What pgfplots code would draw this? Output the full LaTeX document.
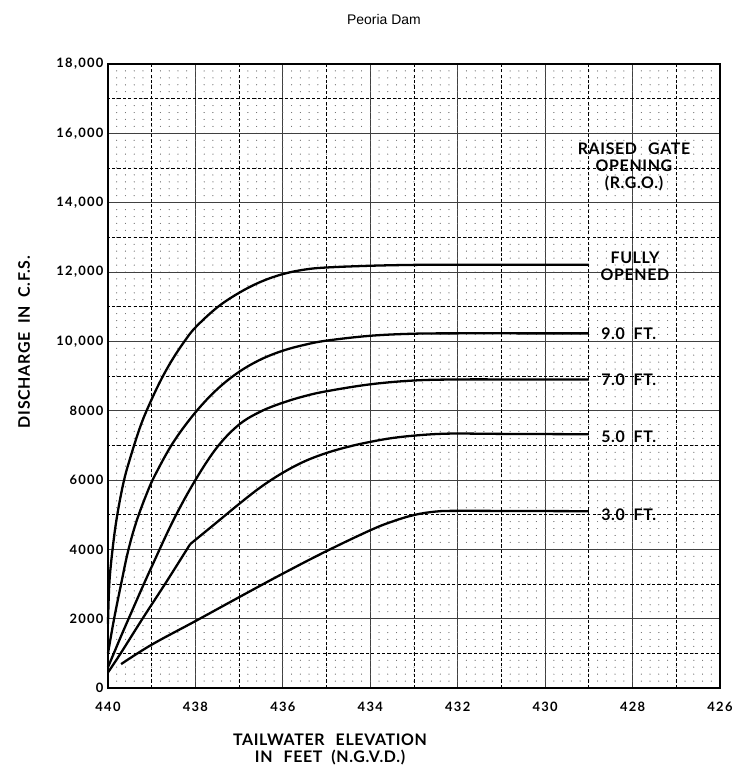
\documentclass[border=0pt]{standalone}
\usepackage{pgfplots}
\pgfplotsset{compat=1.18}
\usepackage{fontspec}
\setmainfont{Liberation Sans}
\newfontfamily\chartfont{Lato}[LetterSpace=4]
\newfontfamily\tickfont{Lato}[LetterSpace=10]

\begin{document}
\begin{tikzpicture}
\useasboundingbox (0,0) rectangle (736bp,767bp);
\begin{axis}[
  at={(108bp,79bp)}, anchor=south west,
  width=612bp, height=624bp, scale only axis,
  x dir=reverse,
  xmin=426, xmax=440, ymin=0, ymax=18000,
  xtick={426,428,...,440},
  xticklabels={426,428,430,432,434,436,438,440},
  ytick={0,2000,...,18000},
  yticklabels={0,2000,4000,6000,8000,{10,000},{12,000},{14,000},{16,000},{18,000}},
  scaled y ticks=false,
  minor x tick num=9, minor y tick num=9,
  grid=both,
  major tick length=0pt, minor tick length=0pt,
  major grid style={black!75, line width=0.9pt},
  minor x grid style={black!55, line width=1.0pt, line cap=round, dash pattern=on 0pt off 6.93333bp},
  minor y grid style={black!55, line width=1.0pt, line cap=round, dash pattern=on 0pt off 8.74286bp},
  extra x ticks={427,429,...,439},
  extra x tick labels={},
  extra x tick style={grid=major, major grid style={black, line width=0.8pt, dash pattern=on 3.2bp off 2.2bp}},
  extra y ticks={1000,3000,...,17000},
  extra y tick labels={},
  extra y tick style={grid=major, major grid style={black, line width=0.8pt, dash pattern=on 3.2bp off 2.2bp}},
  axis line style={line width=1.2pt},
  tick label style={font=\tickfont\bfseries\fontsize{13}{14}\selectfont},
  xticklabel style={yshift=-11bp},
  yticklabel style={xshift=-1bp},
  clip=false,
  curve/.style={black, line width=2.3pt, smooth, tension=0.6, line join=round},
]
% fully opened
\addplot[curve] coordinates {
 (440,1850) (439.97,3000) (439.9,3950) (439.8,4900) (439.65,5900)
 (439.5,6600) (439.25,7580) (439.0,8330) (438.75,8980) (438.5,9530)
 (438.25,10000) (438.0,10400) (437.5,10980) (437.0,11400) (436.5,11720)
 (436.0,11940) (435.5,12070) (435.0,12130) (434.0,12180) (433.0,12205)
 (432.0,12210) (430.5,12210) (429.0,12210)};
% 9.0 ft
\addplot[curve] coordinates {
 (440,1000) (439.86,2000) (439.7,3000) (439.54,3950) (439.35,4800)
 (439.1,5650) (438.9,6200) (438.5,7100) (438.0,7950) (437.5,8620)
 (437.0,9120) (436.5,9480) (436.0,9730) (435.5,9900) (435.0,10020)
 (434.0,10160) (433.0,10220) (432.0,10230) (430.5,10230) (429.0,10230)};
% 7.0 ft
\addplot[curve] coordinates {
 (440,600) (439.85,1050) (439.7,1500) (439.5,2080) (439.25,2800)
 (439.0,3500) (438.5,4850) (438.0,6000) (437.5,6950) (437.0,7600)
 (436.5,7980) (436.0,8230) (435.5,8420) (435.0,8560) (434.0,8760)
 (433.0,8870) (432.0,8900) (430.5,8900) (429.0,8900)};
% 5.0 ft
\addplot[curve] coordinates {
 (440,450) (439.71,1000) (439.21,2000) (438.67,3050) (438.12,4150)};
\addplot[curve] coordinates {
 (438.12,4150) (437.5,4790) (437.0,5310) (436.5,5800) (436.0,6210)
 (435.5,6540) (435.0,6780) (434.5,6960) (434.0,7100) (433.5,7210)
 (433.0,7280) (432.5,7325) (432.0,7340) (431.0,7330) (429.0,7320)};
% 3.0 ft
\addplot[curve] coordinates {
 (439.7,690) (439.0,1250) (438.0,1930) (437.0,2620) (436.0,3300)
 (435.0,3950) (434.0,4550) (433.5,4800) (433.0,4990) (432.5,5090)
 (432.0,5110) (430.5,5105) (429.0,5100)};

\begin{scope}[every node/.style={font=\chartfont\bfseries\fontsize{16}{17}\selectfont, inner sep=0pt}]
\node[anchor=west] at (axis cs:428.72,10230) {9.0\hspace{0.55em}FT.};
\node[anchor=west] at (axis cs:428.72,8900) {7.0\hspace{0.55em}FT.};
\node[anchor=west] at (axis cs:428.72,7250) {5.0\hspace{0.55em}FT.};
\node[anchor=west] at (axis cs:428.72,5000) {3.0\hspace{0.55em}FT.};
\end{scope}
\end{axis}

\begin{scope}[every node/.style={font=\chartfont\bfseries\fontsize{16}{17}\selectfont, inner sep=0pt, align=center}]
\node at (634bp,600bp) {RAISED\hspace{0.7em}GATE\\OPENING\\(R.G.O.)};
\node at (635bp,501bp) {FULLY\\OPENED};
\node at (330bp,18bp) {TAILWATER\hspace{0.7em}ELEVATION\\IN\hspace{0.7em}FEET\hspace{0.55em}(N.G.V.D.)};
\node[rotate=90] at (24bp,425bp) {DISCHARGE\hspace{0.55em}IN\hspace{0.55em}C.F.S.};
\end{scope}
\node[font=\fontsize{14}{16}\selectfont, inner sep=0pt] at (384bp,747bp) {Peoria Dam};
\end{tikzpicture}
\end{document}
